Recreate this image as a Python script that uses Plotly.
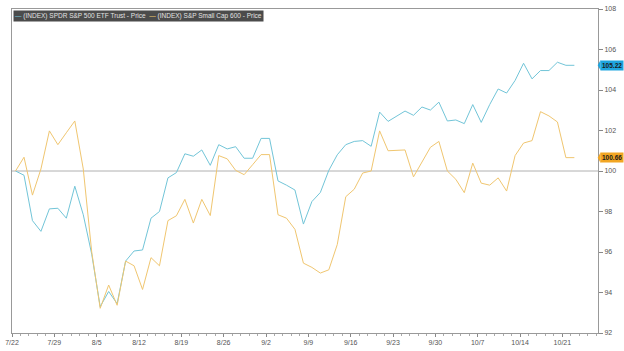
import pandas as pd
import plotly.graph_objects as go

# ---- data ----
dates = pd.bdate_range("2024-07-22", "2024-10-22")  # trading-day positions

spy = [100.0, 99.79, 97.55, 97.02, 98.13, 98.16, 97.67, 99.25, 97.84, 95.89,
       93.3, 94.05, 93.45, 95.55, 96.05, 96.1, 97.67, 98.0, 99.66, 99.92,
       100.85, 100.73, 101.04, 100.28, 101.3, 101.09, 101.2, 100.63, 100.63, 101.61,
       101.61, 99.51, 99.3, 99.06, 97.38, 98.49, 98.94, 100.03, 100.8, 101.3,
       101.46, 101.5, 101.22, 102.91, 102.45, 102.72, 102.96, 102.75, 103.16, 103.01,
       103.4, 102.47, 102.52, 102.34, 103.28, 102.4, 103.28, 104.05, 103.85, 104.47,
       105.32, 104.55, 104.96, 104.96, 105.37, 105.22, 105.22]

sml = [100.0, 100.68, 98.81, 100.1, 101.98, 101.3, 101.89, 102.47, 100.1, 96.0,
       93.22, 94.37, 93.37, 95.55, 95.32, 94.15, 95.72, 95.32, 97.55, 97.79,
       98.6, 97.43, 98.6, 97.8, 100.76, 100.6, 100.03, 99.82, 100.31, 100.81,
       100.81, 97.84, 97.67, 97.12, 95.45, 95.24, 94.96, 95.12, 96.37, 98.73,
       99.1, 99.9, 100.0, 101.98, 101.0, 101.01, 101.04, 99.71, 100.44, 101.17,
       101.46, 100.0, 99.59, 98.93, 100.39, 99.4, 99.3, 99.66, 99.01, 100.76,
       101.38, 101.5, 102.93, 102.72, 102.42, 100.66, 100.66]

names = ["(INDEX) SPDR S&P 500 ETF Trust - Price", "(INDEX) S&P Small Cap 600 - Price"]
last_labels = ["105.22", "100.66"]
last_values = [105.22, 100.66]
y_ticks = [92, 94, 96, 98, 100, 102, 104, 106, 108]

line_colors = ["#72c5d8", "#f0c670"]
tag_colors = ["#1ea5df", "#f2a623"]

x = dates + pd.Timedelta(hours=10)

fig = go.Figure()
for vals, nm, col in zip([spy, sml], names, line_colors):
    fig.add_trace(go.Scatter(x=x, y=vals, mode="lines", name=nm,
                             line=dict(color=col, width=1), showlegend=False))

font_fam = "Arial, Liberation Sans, sans-serif"

fig.update_layout(
    width=624, height=351,
    margin=dict(l=8, r=26, t=5, b=18),
    paper_bgcolor="white", plot_bgcolor="white",
    font=dict(family=font_fam, size=7, color="#555"),
)

fig.update_xaxes(
    range=["2024-07-22 00:00", "2024-10-25 05:00"],
    rangebreaks=[dict(bounds=["sat", "mon"])],
    tick0="2024-07-22", dtick=7 * 86400000, tickformat="%-m/%-d",
    ticks="outside", ticklen=3, tickcolor="#888",
    minor=dict(dtick=86400000, ticks="outside", ticklen=2, tickcolor="#aaa"),
    showline=True, linecolor="#999", linewidth=1, mirror=True,
    showgrid=False, zeroline=False,
    tickfont=dict(size=7, color="#555"),
)
fig.update_yaxes(
    side="right", range=[92, 108], tickvals=y_ticks,
    ticks="outside", ticklen=4, tickcolor="#888",
    showline=True, linecolor="#999", linewidth=1, mirror=True,
    showgrid=False, zeroline=False,
    tickfont=dict(size=7, color="#555"),
)

# reference line at 100
fig.add_shape(type="line", xref="paper", x0=0, x1=1, yref="y", y0=100, y1=100,
              line=dict(color="#b0b0b0", width=1), layer="below")

# legend box (annotation)
legend_text = (f"<span style='color:{line_colors[0]}'>\u2014</span> {names[0]}  "
               f"<span style='color:{line_colors[1]}'>\u2014</span> {names[1]}")
fig.add_annotation(xref="paper", yref="paper", x=0, y=1, xanchor="left", yanchor="top",
                   xshift=1, yshift=-1,
                   text=legend_text, showarrow=False, bgcolor="#4b4b4b",
                   font=dict(size=6.5, color="#e2e2e2", family=font_fam), borderpad=1)

# last-value tags
for val, lab, col in zip(last_values, last_labels, tag_colors):
    fig.add_annotation(xref="paper", yref="y", x=1, y=val, xanchor="left", yanchor="middle",
                       xshift=2, text=f"<b>{lab}</b>", showarrow=False, bgcolor=col,
                       font=dict(size=6.5, color="#1a1a1a", family=font_fam), borderpad=1)
    fig.add_shape(type="path", xref="paper", yref="y",
                  path=f"M 0.9995,{val} L 1.0045,{val + 0.26} L 1.0045,{val - 0.26} Z",
                  fillcolor=col, line=dict(width=0), layer="above")

fig.write_html("out.html")
